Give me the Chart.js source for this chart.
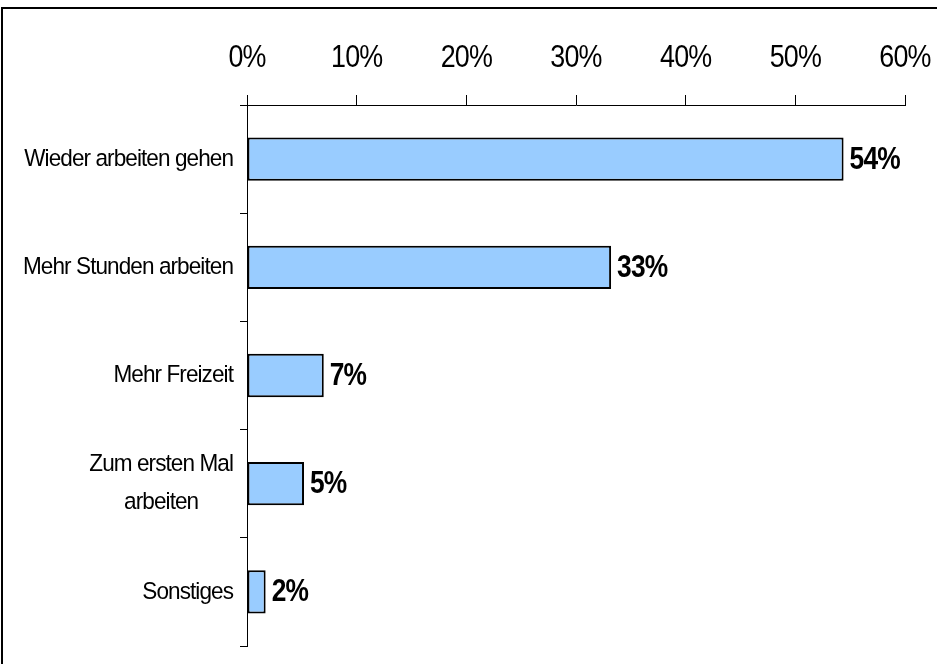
<!DOCTYPE html>
<html><head><meta charset="utf-8">
<script src="https://cdn.jsdelivr.net/npm/chart.js@4/dist/chart.umd.min.js"></script>
<style>html,body{margin:0;padding:0;background:#fff;}#wrap{position:absolute;left:0;top:0;width:937px;height:664px;}</style>
</head><body><div id="wrap"><canvas id="c"></canvas></div>
<script>
const categories = [["Wieder arbeiten gehen"], ["Mehr Stunden arbeiten"], ["Mehr Freizeit"], ["Zum ersten Mal", "arbeiten"], ["Sonstiges"]];
const values = [54.4, 33.2, 7.0, 5.2, 1.7];
const xTicks = [0, 10, 20, 30, 40, 50, 60];

const FONT = "'Liberation Sans', Arial, sans-serif";

function squeezedText(ctx, text, x, y, align, sx) {
  ctx.save();
  ctx.letterSpacing = '-1px';
  const w = ctx.measureText(text).width * sx;
  let left = x;
  if (align === 'center') left = x - w / 2;
  else if (align === 'right') left = x - w;
  ctx.translate(left, y);
  ctx.scale(sx, 1);
  ctx.textAlign = 'left';
  ctx.fillText(text, 0, 0);
  ctx.restore();
  return w;
}

const framePlugin = {
  id: 'frame',
  afterDraw(chart) {
    const ctx = chart.ctx;
    ctx.save();
    ctx.fillStyle = '#000';
    ctx.fillRect(1, 7, 936, 2);
    ctx.fillRect(1, 7, 2, 657);
    ctx.restore();
  }
};

const labelPlugin = {
  id: 'labels',
  afterDatasetsDraw(chart) {
    const ctx = chart.ctx;
    const meta = chart.getDatasetMeta(0);
    ctx.save();
    ctx.fillStyle = '#000';
    ctx.textBaseline = 'middle';
    // value labels
    ctx.font = "bold 31px " + FONT;
    meta.data.forEach((bar, i) => {
      squeezedText(ctx, Math.round(values[i]) + '%', bar.x + 6, bar.y + 1, 'left', 0.85);
    });
    // x tick labels
    const xs = chart.scales.x;
    ctx.font = "32px " + FONT;
    xTicks.forEach(v => {
      squeezedText(ctx, v + '%', xs.getPixelForValue(v), 58, 'center', 0.84);
    });
    // category labels
    const ys = chart.scales.y;
    ctx.font = "24.5px " + FONT;
    const SXC = 0.92;
    const right = chart.chartArea.left - 14;
    const lh = 38;
    categories.forEach((lines, i) => {
      const yc = ys.getPixelForValue(i);
      ctx.save();
      ctx.letterSpacing = '-1px';
      const w = Math.max(...lines.map(l => ctx.measureText(l).width)) * SXC;
      ctx.restore();
      const cx = right - w / 2;
      const y0 = yc - (lines.length - 1) * lh / 2;
      lines.forEach((l, j) => squeezedText(ctx, l, cx, y0 + j * lh, 'center', SXC));
    });
    ctx.restore();
  }
};

new Chart(document.getElementById('c'), {
  type: 'bar',
  data: {
    labels: categories,
    datasets: [{
      data: values,
      backgroundColor: '#99CCFF',
      borderColor: '#000',
      borderWidth: 2,
      borderSkipped: false,
      barPercentage: 0.4,
      categoryPercentage: 1
    }]
  },
  options: {
    indexAxis: 'y',
    responsive: true,
    maintainAspectRatio: false,
    animation: false,
    layout: { padding: { top: 0, right: 32, bottom: 18, left: 0 } },
    plugins: { legend: { display: false }, tooltip: { enabled: false } },
    scales: {
      x: {
        position: 'top',
        min: 0, max: 60,
        afterBuildTicks(scale) { scale.ticks = xTicks.map(v => ({ value: v })); },
        afterFit(scale) { scale.height = 105; },
        grid: { drawOnChartArea: false, drawTicks: true, tickLength: 10, color: '#000' },
        border: { display: true, color: '#000', width: 1 },
        ticks: { color: 'rgba(0,0,0,0)', padding: 0, maxRotation: 0, autoSkip: false, font: { size: 1 } }
      },
      y: {
        afterFit(scale) { scale.width = 247; },
        grid: { drawOnChartArea: false, drawTicks: true, tickLength: 7, color: '#000', offset: true },
        border: { display: true, color: '#000', width: 1 },
        ticks: { color: 'rgba(0,0,0,0)', font: { size: 1 } }
      }
    }
  },
  plugins: [framePlugin, labelPlugin]
});
</script>
</body></html>
